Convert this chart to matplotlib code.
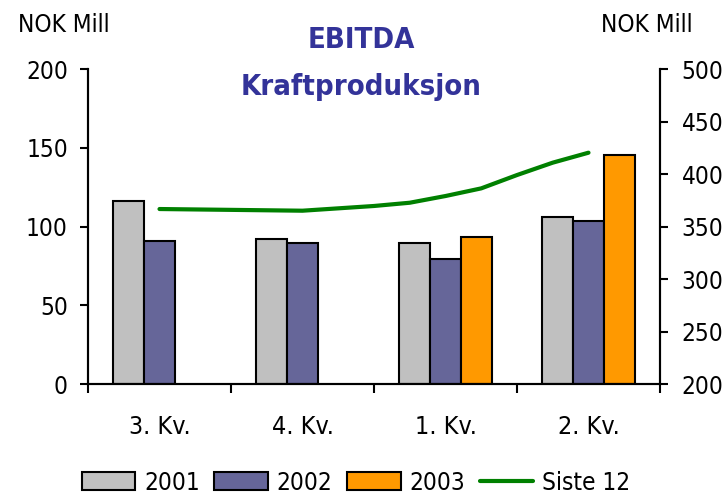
import matplotlib
matplotlib.use("Agg")
import matplotlib.pyplot as plt
from matplotlib import font_manager as fm
import numpy as np

# ---- data ----
categories = ["3. Kv.", "4. Kv.", "1. Kv.", "2. Kv."]
ebitda_2001 = [116.5, 92.4, 89.8, 106.3]
ebitda_2002 = [91.1, 89.8, 79.6, 103.6]
ebitda_2003 = [np.nan, np.nan, 93.6, 145.5]
siste12_x = [0, 1, 1.5, 1.75, 2, 2.25, 2.5, 2.75, 3]
siste12 = [366.8, 365.2, 369.7, 372.8, 379.2, 386.5, 399.2, 411.0, 420.5]
series_names = ["2001", "2002", "2003", "Siste 12"]
left_ticks = [0, 50, 100, 150, 200]
right_ticks = [200, 250, 300, 350, 400, 450, 500]

# ---- font ----
has_cond = any(f.name == "DejaVu Sans" and "condensed" in str(f.stretch).lower()
               for f in fm.fontManager.ttflist)
plt.rcParams["font.family"] = ["DejaVu Sans"]
if has_cond:
    plt.rcParams["font.stretch"] = "condensed"

W, H = 725, 494
fig = plt.figure(figsize=(W / 100, H / 100), dpi=100)
ax = fig.add_axes([88 / W, 1 - 384 / H, (660 - 88) / W, (384 - 69.3) / H])
ax2 = ax.twinx()

fs = 17.5
x = np.arange(len(categories))
bw = 0.215
cols = ["#C0C0C0", "#666699", "#FF9900"]
bars = []
for i, (vals, c) in enumerate(zip([ebitda_2001, ebitda_2002, ebitda_2003], cols)):
    b = ax.bar(x + (i - 1) * bw, vals, width=bw, color=c, edgecolor="black",
               linewidth=1.5, zorder=2)
    bars.append(b)

line, = ax2.plot(siste12_x, siste12, color="#008000", lw=3, solid_capstyle="round", zorder=3)

ax.set_xlim(-0.5, 3.5)
ax.set_ylim(0, 200)
ax2.set_ylim(200, 500)
ax.set_yticks(left_ticks)
ax2.set_yticks(right_ticks)

for a in (ax, ax2):
    a.spines["top"].set_visible(False)
    for s in ("left", "right", "bottom"):
        a.spines[s].set_linewidth(1.5)

ax.tick_params(axis="y", labelsize=fs, length=5.5, width=1.5, pad=9)
ax2.tick_params(axis="y", labelsize=fs, length=5.5, width=1.5, pad=10)

ax.set_xticks(np.arange(-0.5, 4, 1.0))
ax.set_xticklabels([])
ax.tick_params(axis="x", which="major", length=6.5, width=1.5)
ax.set_xticks(x, minor=True)
ax.set_xticklabels(categories, minor=True)
ax.tick_params(axis="x", which="minor", length=0, labelsize=18, pad=22)

title_color = "#333399"
fig.text(361 / W, 1 - 40 / H, "EBITDA", ha="center", va="center", fontsize=21,
         fontweight="bold", color=title_color)
fig.text(361 / W, 1 - 87 / H, "Kraftproduksjon", ha="center", va="center", fontsize=21,
         fontweight="bold", color=title_color)
fig.text(64 / W, 1 - 25 / H, "NOK Mill", ha="center", va="center", fontsize=fs)
fig.text(647 / W, 1 - 25 / H, "NOK Mill", ha="center", va="center", fontsize=fs)

leg = fig.legend([bars[0], bars[1], bars[2], line], series_names, loc="center",
                 bbox_to_anchor=(356 / W, 1 - 482.5 / H), ncol=4, frameon=False,
                 fontsize=fs, handlelength=2.2, handleheight=0.7, handletextpad=0.37,
                 columnspacing=0.6, borderaxespad=0, borderpad=0)

fig.savefig("out.png", dpi=100)
